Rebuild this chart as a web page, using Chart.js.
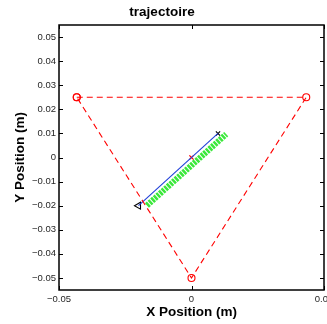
<!DOCTYPE html>
<html>
<head>
<meta charset="utf-8">
<script src="https://cdn.jsdelivr.net/npm/chart.js@4/dist/chart.umd.min.js"></script>
<style>
  html, body { margin: 0; padding: 0; background: #fff; overflow: hidden; }
  canvas { display: block; }
</style>
</head>
<body>
<canvas id="trajChart" width="350" height="324"></canvas>
<script>
// triangle of the three anchors (closed)
const triX = [-0.0433, 0.0433, 0, -0.0433];
const triY = [0.025, 0.025, -0.05, 0.025];
// blue trajectory
const trajX = [-0.02, 0.01];
const trajY = [-0.02, 0.01];
// green band
const bandX = [-0.0168, 0.0131];
const bandY = [-0.0199, 0.0097];
// markers
const startPt = { x: -0.02, y: -0.02 };
const endPt = { x: 0.01, y: 0.01 };
const centerPt = { x: 0, y: 0 };
// ticks
const xTicks = [-0.05, 0, 0.05];
const yTicks = [-0.05, -0.04, -0.03, -0.02, -0.01, 0, 0.01, 0.02, 0.03, 0.04, 0.05];

const zip = (xs, ys) => xs.map((x, i) => ({ x: x, y: ys[i] }));
const fmt = (v) => {
  if (Math.abs(v) < 1e-9) return "0";
  return (v < 0 ? "\u2212" : "") + Math.abs(v).toFixed(2);
};
const FONT = "'Liberation Sans', Arial, Helvetica, sans-serif";

// matlab style box with inward ticks
const boxTicks = {
  id: "boxTicks",
  afterDraw(chart) {
    const { ctx, chartArea: a, scales } = chart;
    ctx.save();
    ctx.strokeStyle = "#000";
    ctx.lineWidth = 1;
    const len = 4;
    ctx.beginPath();
    scales.x.ticks.forEach((t) => {
      const px = Math.round(scales.x.getPixelForValue(t.value)) + 0.5;
      ctx.moveTo(px, a.bottom); ctx.lineTo(px, a.bottom - len);
      ctx.moveTo(px, a.top); ctx.lineTo(px, a.top + len);
    });
    scales.y.ticks.forEach((t) => {
      const py = Math.round(scales.y.getPixelForValue(t.value)) + 0.5;
      ctx.moveTo(a.left, py); ctx.lineTo(a.left + len, py);
      ctx.moveTo(a.right, py); ctx.lineTo(a.right - len, py);
    });
    ctx.stroke();
    ctx.lineWidth = 1.5;
    ctx.strokeRect(a.left, a.top, a.right - a.left, a.bottom - a.top);
    ctx.restore();
  }
};

new Chart(document.getElementById("trajChart"), {
  type: "scatter",
  data: {
    datasets: [
      {
        data: zip(bandX, bandY),
        showLine: true,
        borderColor: "#3ae83a",
        borderWidth: 6,
        borderDash: [2.5, 1],
        pointRadius: 0
      },
      {
        data: zip(triX, triY),
        showLine: true,
        borderColor: "#ff0000",
        borderWidth: 1.1,
        borderDash: [6, 4],
        pointStyle: "circle",
        pointRadius: 3.5,
        pointBorderColor: "#ff0000",
        pointBackgroundColor: "rgba(0,0,0,0)",
        pointBorderWidth: 1.1
      },
      {
        data: zip(trajX, trajY),
        showLine: true,
        borderColor: "#1f3fd8",
        borderWidth: 1.1,
        pointRadius: 0
      },
      {
        data: [centerPt],
        pointStyle: "crossRot",
        pointRadius: 3,
        pointBorderColor: "#ff0000",
        pointBorderWidth: 1.2
      },
      {
        data: [endPt],
        pointStyle: "crossRot",
        pointRadius: 3,
        pointBorderColor: "#000",
        pointBorderWidth: 1.1
      },
      {
        data: [startPt],
        pointStyle: "triangle",
        rotation: -90,
        pointRadius: 4,
        pointBorderColor: "#000",
        pointBackgroundColor: "rgba(0,0,0,0)",
        pointBorderWidth: 1.1
      }
    ]
  },
  options: {
    responsive: false,
    animation: false,
    events: [],
    layout: { padding: { left: 0, right: 26, top: 0, bottom: 0 } },
    plugins: {
      legend: { display: false },
      tooltip: { enabled: false },
      title: {
        display: true,
        text: "trajectoire",
        color: "#000",
        font: { family: FONT, size: 13.5, weight: "bold", lineHeight: 1.2 },
        padding: { top: 4.5, bottom: 4.3 }
      }
    },
    scales: {
      x: {
        type: "linear",
        min: -0.05,
        max: 0.05,
        afterBuildTicks: (s) => { s.ticks = xTicks.map((v) => ({ value: v })); },
        afterFit: (s) => { s.height = 34; },
        grid: { display: true, drawOnChartArea: false, drawTicks: false },
        border: { display: false },
        ticks: {
          color: "#262626",
          padding: 4,
          maxRotation: 0,
          font: { family: FONT, size: 9.5 },
          callback: (v) => fmt(v)
        },
        title: {
          display: true,
          text: "X Position (m)",
          color: "#000",
          font: { family: FONT, size: 13.5, weight: "bold", lineHeight: 1.2 },
          padding: { top: 0, bottom: 4 }
        }
      },
      y: {
        type: "linear",
        min: -0.055,
        max: 0.055,
        afterBuildTicks: (s) => { s.ticks = yTicks.map((v) => ({ value: v })); },
        afterFit: (s) => { s.width = 59; },
        grid: { display: true, drawOnChartArea: false, drawTicks: false },
        border: { display: false },
        ticks: {
          color: "#262626",
          padding: 3,
          font: { family: FONT, size: 9.5 },
          callback: (v) => fmt(v)
        },
        title: {
          display: true,
          text: "Y Position (m)",
          color: "#000",
          font: { family: FONT, size: 13.5, weight: "bold", lineHeight: 1.2 },
          padding: { top: 12, bottom: 0 }
        }
      }
    }
  },
  plugins: [boxTicks]
});
</script>
</body>
</html>
